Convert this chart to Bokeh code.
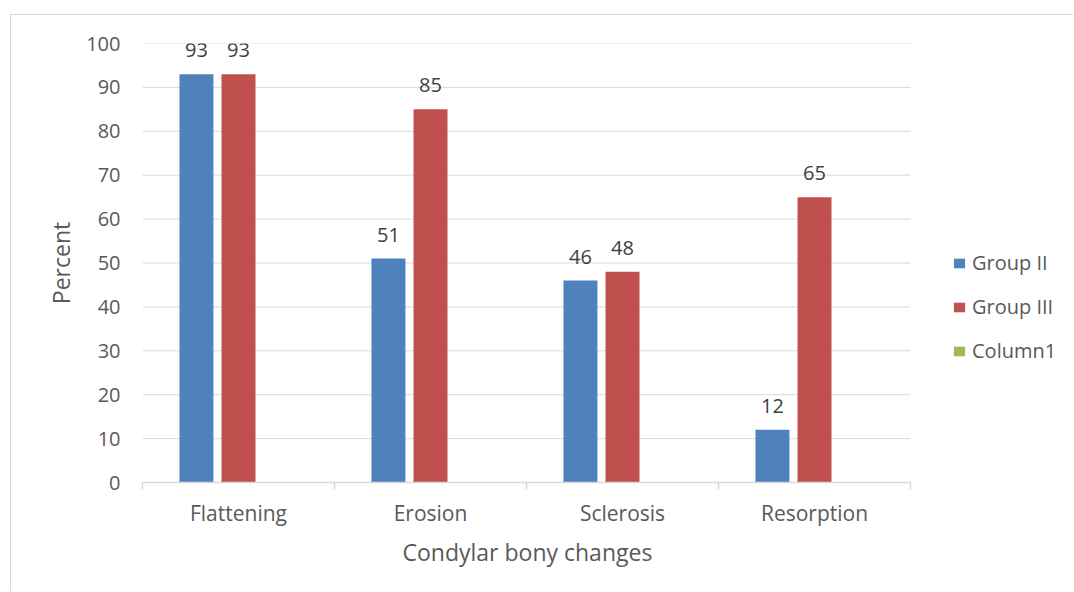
from bokeh.plotting import figure
from bokeh.models import (Range1d, FixedTicker, Legend, LegendItem, ColumnDataSource, Title)
from bokeh.transform import dodge
from bokeh.layouts import column
from bokeh.embed import file_html
from bokeh.resources import INLINE
from bokeh.core.properties import value

categories = ["Flattening", "Erosion", "Sclerosis", "Resorption"]
group_ii = [93, 51, 46, 12]
group_iii = [93, 85, 48, 65]
column1 = [0, 0, 0, 0]
series_names = ["Group II", "Group III", "Column1"]
series_colors = ["#4F81BD", "#C0504D", "#9BBB59"]
y_ticks = [0, 10, 20, 30, 40, 50, 60, 70, 80, 90, 100]
x_title = "Condylar bony changes"
y_title = "Percent"

FONT = "Open Sans"
TXT = "#595959"
GRID = "#d9d9d9"

n = len(categories)
centers = [i + 0.5 for i in range(n)]
bounds = [float(i) for i in range(n + 1)]

# plot area spans categories (768 px) plus the legend strip on the right (163 px)
CAT_PX = 768
FRAME_PX = 931
x_end = n * FRAME_PX / CAT_PX

p = figure(x_range=Range1d(0, x_end), y_range=Range1d(0, 100),
           width=1062, height=576, output_backend="svg", toolbar_location=None,
           min_border_left=131, min_border_right=0,
           min_border_top=28, min_border_bottom=109)
p.outline_line_color = None
p.background_fill_color = "white"
p.border_fill_color = "white"

# gridlines limited to category area
p.ygrid.grid_line_color = None
p.xgrid.grid_line_color = None
p.segment(x0=0, x1=n, y0=y_ticks, y1=y_ticks, line_color=GRID, line_width=1)

# y axis
p.yaxis.ticker = FixedTicker(ticks=y_ticks)
p.yaxis.axis_line_color = None
p.yaxis.major_tick_line_color = None
p.yaxis.minor_tick_line_color = None
p.yaxis.major_tick_out = 0
p.yaxis.major_label_standoff = 22
p.yaxis.major_label_text_font = FONT
p.yaxis.major_label_text_font_size = "20px"
p.yaxis.major_label_text_color = TXT
p.yaxis.axis_label = y_title
p.yaxis.axis_label_text_font = FONT
p.yaxis.axis_label_text_font_size = "23px"
p.yaxis.axis_label_text_font_style = "normal"
p.yaxis.axis_label_text_color = TXT
p.yaxis.axis_label_standoff = 6

# x axis: boundary ticks as minor ticks, labels at centres
xa = p.xaxis[0]
xa.bounds = (0, n)
xa.ticker = FixedTicker(ticks=centers, minor_ticks=bounds)
xa.major_label_overrides = {c: lab for c, lab in zip(centers, categories)}
xa.axis_line_color = GRID
xa.axis_line_width = 1.5
xa.major_tick_line_color = None
xa.major_tick_out = 0
xa.major_tick_in = 0
xa.minor_tick_line_color = GRID
xa.minor_tick_line_width = 1.5
xa.minor_tick_out = 7
xa.minor_tick_in = 0
xa.major_label_standoff = 9
xa.major_label_text_font = FONT
xa.major_label_text_font_size = "21px"
xa.major_label_text_color = TXT

# x title centred under the category area
p.add_layout(Title(text=x_title, align="left", offset=260, standoff=8,
                   text_font=FONT, text_font_size="23px", text_font_style="normal",
                   text_color=TXT), "below")

offsets = [-0.219, 0.0, 0.219]
bar_w = 0.177
items = []
for name, vals, col, off in zip(series_names, [group_ii, group_iii, column1],
                                series_colors, offsets):
    src = ColumnDataSource(dict(xc=centers, v=vals, lbl=[str(v) for v in vals]))
    r = p.vbar(x=dodge("xc", off), top="v", bottom=0, width=bar_w,
               source=src, fill_color=col, line_color=None)
    items.append(LegendItem(label=name, renderers=[r]))
    if any(vals):
        p.text(x=dodge("xc", off), y="v", text="lbl", source=src,
               text_align="center", text_baseline="alphabetic", y_offset=-24,
               text_font=value(FONT), text_font_size="20px", text_color="#404040")

legend = Legend(items=items, location=(810, 118), orientation="vertical",
                padding=0, margin=0, spacing=17, label_height=20, glyph_height=12,
                glyph_width=14, label_standoff=6, border_line_color=None,
                background_fill_alpha=0, label_text_font=FONT,
                label_text_font_size="20px", label_text_color=TXT)
p.add_layout(legend, "center")

lay = column(p, margin=(14, 0, 0, 10),
             styles={"border-left": "1px solid #d9d9d9", "border-top": "1px solid #d9d9d9"})

open("out.html", "w").write(file_html(lay, INLINE))
